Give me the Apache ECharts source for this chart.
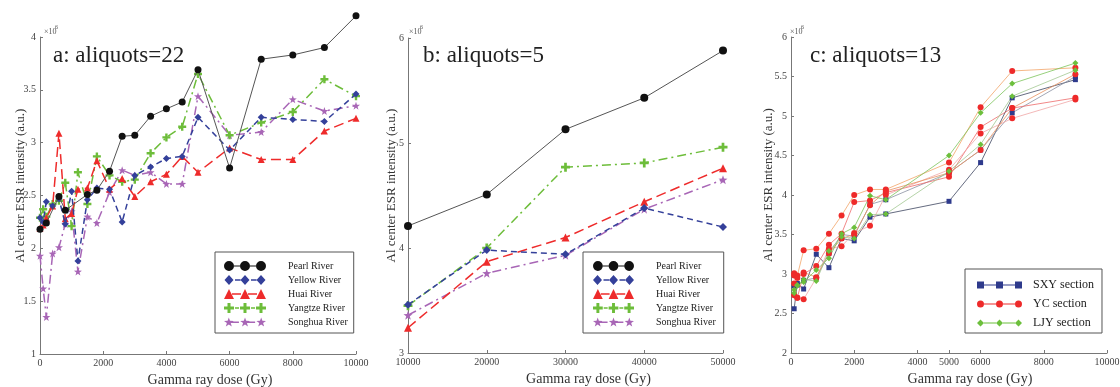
<!DOCTYPE html>
<html>
<head>
<meta charset="utf-8">
<script src="https://cdn.jsdelivr.net/npm/echarts@6/dist/echarts.min.js"></script>
<style>
html, body { margin: 0; padding: 0; background: #fff; }
#main { width: 1120px; height: 387px; }
</style>
</head>
<body>
<div id="main"></div>
<script>
// ---- data (values in units of 1e6) ----
var doseA = [0, 100, 200, 400, 600, 800, 1000, 1200, 1500, 1800, 2200, 2600, 3000, 3500, 4000, 4500, 5000, 6000, 7000, 8000, 9000, 10000];
var pearlA   = [2.18, null, 2.24, null, 2.49, 2.36, null, null, 2.51, 2.55, 2.73, 3.06, 3.07, 3.25, 3.32, 3.385, 3.69, 2.76, 3.79, 3.83, 3.90, 4.20];
var yellowA  = [2.29, 2.25, 2.44, 2.40, 2.47, 2.23, 2.54, 1.88, 2.46, 2.57, 2.56, 2.25, 2.69, 2.77, 2.85, 2.87, 3.24, 2.93, 3.24, 3.22, 3.20, 3.46];
var huaiA    = [2.19, 2.22, 2.29, 2.40, 3.09, 2.28, 2.33, 2.56, 2.57, 2.83, 2.56, 2.66, 2.49, 2.63, 2.70, 2.87, 2.72, 2.95, 2.84, 2.84, 3.11, 3.23];
var yangtzeA = [2.29, 2.37, 2.30, 2.42, 2.45, 2.62, 2.21, 2.72, 2.42, 2.87, 2.69, 2.63, 2.65, 2.90, 3.05, 3.15, 3.65, 3.07, 3.19, 3.29, 3.60, 3.44];
var songhuaA = [1.93, 1.62, 1.35, 1.95, 2.01, 2.23, 2.35, 1.78, 2.30, 2.24, 2.53, 2.74, 2.69, 2.72, 2.61, 2.61, 3.44, 3.07, 3.10, 3.41, 3.30, 3.35];

var doseB = [10000, 20000, 30000, 40000, 50000];
var pearlB   = [4.21, 4.51, 5.13, 5.43, 5.88];
var yellowB  = [3.46, 3.98, 3.94, 4.38, 4.20];
var huaiB    = [3.24, 3.87, 4.10, 4.44, 4.76];
var yangtzeB = [3.45, 4.00, 4.77, 4.81, 4.96];
var songhuaB = [3.36, 3.76, 3.93, 4.37, 4.65];

var doseC = [100, 200, 400, 800, 1200, 1600, 2000, 2500, 3000, 5000, 6000, 7000, 9000];
var sxy1 = [2.56, 2.88, 2.81, 3.25, 3.08, 3.45, 3.42, 3.72, 3.76, 3.92, 4.41, 5.23, 5.46];
var sxy2 = [2.85, 2.86, 2.92, 2.95, 3.26, 3.50, 3.48, 3.88, 3.94, 4.28, 4.57, 5.04, 5.50];
var yc1  = [3.01, 2.98, 3.30, 3.32, 3.51, 3.74, 4.00, 4.07, 4.07, 4.41, 5.11, 5.57, 5.61];
var yc2  = [2.88, 2.70, 3.00, 3.10, 3.37, 3.51, 3.91, 3.93, 4.03, 4.23, 4.86, 5.10, 5.23];
var yc3  = [2.73, 2.70, 2.68, 2.95, 3.32, 3.35, 3.52, 3.61, 4.00, 4.32, 4.78, 4.97, 5.21];
var yc4  = [2.98, 2.95, 3.02, 2.96, 3.26, 3.45, 3.50, 3.87, 4.05, 4.28, 4.57, 5.10, 5.53];
var ljy1 = [2.76, 2.86, 2.90, 3.05, 3.20, 3.51, 3.59, 3.99, 3.94, 4.50, 5.04, 5.41, 5.67];
var ljy2 = [2.80, 2.85, 2.93, 2.91, 3.29, 3.47, 3.45, 3.75, 3.76, 4.30, 4.64, 5.25, 5.58];

var ticksC = [0, 2000, 4000, 5000, 6000, 8000, 10000];

var rivers = ['Pearl River', 'Yellow River', 'Huai River', 'Yangtze River', 'Songhua River'];
var sections = ['SXY section', 'YC section', 'LJY section'];

// ---- shapes ----
var serif = "'Liberation Serif', 'DejaVu Serif', serif";

function rect(x0, x1, y0, y1) {
  return 'M' + x0 + ',' + y0 + ' L' + x1 + ',' + y0 + ' L' + x1 + ',' + y1 + ' L' + x0 + ',' + y1 + ' Z ';
}
function circle(cx, cy, r) {
  return 'M' + (cx - r) + ',' + cy + ' A' + r + ',' + r + ' 0 1,0 ' + (cx + r) + ',' + cy +
    ' A' + r + ',' + r + ' 0 1,0 ' + (cx - r) + ',' + cy + ' Z ';
}
function diamond(cx, h, hw) {
  return 'M' + cx + ',0 L' + (cx + hw) + ',' + (h / 2) + ' L' + cx + ',' + h + ' L' + (cx - hw) + ',' + (h / 2) + ' Z ';
}
function tri(cx, s) {
  return 'M' + cx + ',0 L' + (cx + s / 2) + ',' + s + ' L' + (cx - s / 2) + ',' + s + ' Z ';
}
function plus(cx, s) {
  var a = cx - s * 0.15, b = cx + s * 0.15, l = cx - s / 2, r = cx + s / 2;
  var c = s * 0.35, d = s * 0.65;
  return 'M' + a + ',0 L' + b + ',0 L' + b + ',' + c + ' L' + r + ',' + c + ' L' + r + ',' + d +
    ' L' + b + ',' + d + ' L' + b + ',' + s + ' L' + a + ',' + s + ' L' + a + ',' + d +
    ' L' + l + ',' + d + ' L' + l + ',' + c + ' L' + a + ',' + c + ' Z ';
}
function star(cx, s) {
  var R = s / 2, r = s * 0.2, pts = [];
  for (var k = 0; k < 10; k++) {
    var ang = (-90 + k * 36) * Math.PI / 180, rad = k % 2 ? r : R;
    pts.push((cx + rad * Math.cos(ang)).toFixed(2) + ',' + (R + 0.25 + rad * Math.sin(ang)).toFixed(2));
  }
  return 'M' + pts.join(' L') + ' Z ';
}
function bars(list, h, t) {
  return list.map(function (b) { return rect(b[0], b[1], h / 2 - t / 2, h / 2 + t / 2); }).join('');
}

var plusSym = 'path://' + plus(5, 10);
var starSym = 'path://' + star(5, 10);

var iconsAB = [
  'path://' + circle(5, 5, 5) + circle(21, 5, 5) + circle(37, 5, 5) + bars([[10, 16], [26, 32]], 10, 1),
  'path://' + diamond(5, 10, 4.5) + diamond(21, 10, 4.5) + diamond(37, 10, 4.5) + bars([[11, 16.5], [27, 32.5]], 10, 1.4),
  'path://' + tri(5, 10) + tri(21, 10) + tri(37, 10) + bars([[8, 17], [24, 33]], 10, 1.4),
  'path://' + plus(5, 10) + plus(21, 10) + plus(37, 10) + bars([[11, 15], [27, 31]], 10, 1.4),
  'path://' + star(5, 10) + star(21, 10) + star(37, 10) + bars([[8, 15], [24, 31]], 10, 1.4)
];
var iconsC = [
  'path://' + rect(0, 7, 0, 7) + rect(19, 26, 0, 7) + rect(38, 45, 0, 7) + bars([[7, 19], [26, 38]], 7, 0.8),
  'path://' + circle(3.5, 3.5, 3.5) + circle(22.5, 3.5, 3.5) + circle(41.5, 3.5, 3.5) + bars([[7, 19], [26, 38]], 7, 0.8),
  'path://' + diamond(3.5, 7, 3.5) + diamond(22.5, 7, 3.5) + diamond(41.5, 7, 3.5) + bars([[7, 19], [26, 38]], 7, 0.8)
];

var riverStyle = [
  { color: '#111111', line: '#555555', width: 1, type: 'solid', symbol: 'circle', size: 7 },
  { color: '#34409a', line: '#34409a', width: 1.5, type: [6, 4], symbol: 'diamond', size: 7 },
  { color: '#ee2b2b', line: '#ee2b2b', width: 1.5, type: [10, 5], symbol: 'triangle', size: 7 },
  { color: '#6dbd3a', line: '#6dbd3a', width: 1.5, type: [9, 4, 2, 4], symbol: plusSym, size: 8 },
  { color: '#a866b6', line: '#a866b6', width: 1.5, type: [9, 4, 2, 4], symbol: starSym, size: 8 }
];

function pairs(xs, ys) {
  return xs.map(function (x, i) { return [x, ys[i]]; });
}

function riverSeries(arrs, doses, idx, grow) {
  return arrs.map(function (arr, i) {
    var s = riverStyle[i];
    return {
      type: 'line', name: rivers[i], xAxisIndex: idx, yAxisIndex: idx,
      data: pairs(doses, arr), connectNulls: true, clip: false,
      symbol: s.symbol, symbolSize: s.size + grow, showSymbol: true,
      itemStyle: { color: s.color },
      lineStyle: { color: s.line, width: s.width, type: s.type },
      z: 10 - i
    };
  });
}

var sectionLines = [
  { sec: 0, data: sxy1, line: '#3d4560', color: '#2e3a8c', symbol: 'rect', size: 5 },
  { sec: 0, data: sxy2, line: '#8a90a2', color: '#2e3a8c', symbol: 'rect', size: 5 },
  { sec: 1, data: yc1, line: '#f2a468', color: '#ee2a2a', symbol: 'circle', size: 6 },
  { sec: 1, data: yc2, line: '#ee6a6a', color: '#ee2a2a', symbol: 'circle', size: 6 },
  { sec: 1, data: yc3, line: '#f0a6a6', color: '#ee2a2a', symbol: 'circle', size: 6 },
  { sec: 1, data: yc4, line: '#e8905e', color: '#ee2a2a', symbol: 'circle', size: 6 },
  { sec: 2, data: ljy1, line: '#7cc45a', color: '#6cbf3c', symbol: 'diamond', size: 6 },
  { sec: 2, data: ljy2, line: '#a2c892', color: '#6cbf3c', symbol: 'diamond', size: 6 }
];

var seriesC = sectionLines.map(function (l) {
  return {
    type: 'line', name: sections[l.sec], xAxisIndex: 2, yAxisIndex: 2,
    data: pairs(doseC, l.data), symbol: l.symbol, symbolSize: l.size,
    itemStyle: { color: l.color },
    lineStyle: { color: l.line, width: 0.8 }
  };
});

// ---- axes ----
function plain(v) { return String(v); }

function xAxis(idx, min, max, interval, pad, extra) {
  var ax = {
    type: 'value', gridIndex: idx, min: min, max: max, interval: interval,
    name: 'Gamma ray dose (Gy)', nameLocation: 'middle', nameGap: 19, nameMoveOverlap: false,
    nameTextStyle: { fontFamily: serif, fontSize: 14, color: '#333', padding: [0, 0, 0, pad] },
    axisLine: { show: true, onZero: false, lineStyle: { color: '#777', width: 1 } },
    axisTick: { show: true, inside: true, length: 3, lineStyle: { color: '#777' } },
    axisLabel: { fontFamily: serif, fontSize: 10, color: '#444', margin: 4, formatter: plain },
    splitLine: { show: false }
  };
  if (extra) {
    ax.axisLabel.customValues = extra;
    ax.axisTick.customValues = extra;
  }
  return ax;
}
function yAxis(idx, min, max, interval, gap) {
  return {
    type: 'value', gridIndex: idx, min: min, max: max, interval: interval,
    name: 'Al center ESR intensity (a.u.)', nameLocation: 'middle', nameGap: gap, nameMoveOverlap: false,
    nameTextStyle: { fontFamily: serif, fontSize: 13, color: '#333', padding: [0, 0, 0, 20] },
    axisLine: { show: true, onZero: false, lineStyle: { color: '#777', width: 1 } },
    axisTick: { show: true, inside: true, length: 3, lineStyle: { color: '#777' } },
    axisLabel: { fontFamily: serif, fontSize: 10, color: '#444', margin: 4, formatter: plain },
    splitLine: { show: false }
  };
}

function legend(names, icons, left, top, opts) {
  return {
    orient: 'vertical', left: left, top: top,
    data: names.map(function (n, i) { return { name: n, icon: icons[i] }; }),
    itemWidth: opts.w, itemHeight: opts.h, itemGap: opts.gap,
    padding: opts.padding,
    borderColor: '#555', borderWidth: 1, borderRadius: 0,
    textStyle: { fontFamily: serif, fontSize: opts.fs, color: '#222', lineHeight: opts.lh, padding: [0, 0, 0, opts.tp] },
    selectedMode: false
  };
}

function sup(x, y) {
  return [
    { type: 'text', left: x, top: y + 2, style: { text: '×10', font: '8px ' + serif, fill: '#555' } },
    { type: 'text', left: x + 11, top: y - 2, style: { text: '6', font: '6px ' + serif, fill: '#555' } }
  ];
}

var titleStyle = { fontFamily: serif, fontSize: 23, fontWeight: 'normal', color: '#222' };

var chart = echarts.init(document.getElementById('main'));
chart.setOption({
  animation: false,
  backgroundColor: '#fff',
  title: [
    { text: 'a: aliquots=22', left: 53, top: 44, padding: 0, textStyle: titleStyle },
    { text: 'b: aliquots=5', left: 423, top: 44, padding: 0, textStyle: titleStyle },
    { text: 'c: aliquots=13', left: 810, top: 44, padding: 0, textStyle: titleStyle }
  ],
  grid: [
    { left: 40, top: 37, width: 316, height: 317, outerBoundsMode: 'none' },
    { left: 408, top: 38, width: 315, height: 315, outerBoundsMode: 'none' },
    { left: 791, top: 37, width: 316, height: 316, outerBoundsMode: 'none' }
  ],
  xAxis: [
    xAxis(0, 0, 10000, 2000, 24),
    xAxis(1, 10000, 50000, 10000, 46),
    xAxis(2, 0, 10000, 1000, 42, ticksC)
  ],
  yAxis: [
    yAxis(0, 1, 4, 0.5, 13),
    yAxis(1, 3, 6, 1, 10),
    yAxis(2, 2, 6, 0.5, 16)
  ],
  legend: [
    legend(rivers, iconsAB, 215, 252, { w: 42, h: 10, gap: 2, lh: 12, fs: 10, tp: 17, padding: [8, 6, 5, 9] }),
    legend(rivers, iconsAB, 583, 252, { w: 41, h: 10, gap: 2, lh: 12, fs: 10, tp: 17, padding: [8, 8, 5, 10] }),
    legend(sections, iconsC, 965, 269, { w: 45, h: 7, gap: 5, lh: 14, fs: 12, tp: 6, padding: [9, 8, 3, 12] })
  ],
  graphic: sup(44, 26).concat(sup(409, 26)).concat(sup(790, 26)),
  series: riverSeries([pearlA, yellowA, huaiA, yangtzeA, songhuaA], doseA, 0, 0)
    .concat(riverSeries([pearlB, yellowB, huaiB, yangtzeB, songhuaB], doseB, 1, 1))
    .concat(seriesC)
});
</script>
</body>
</html>
